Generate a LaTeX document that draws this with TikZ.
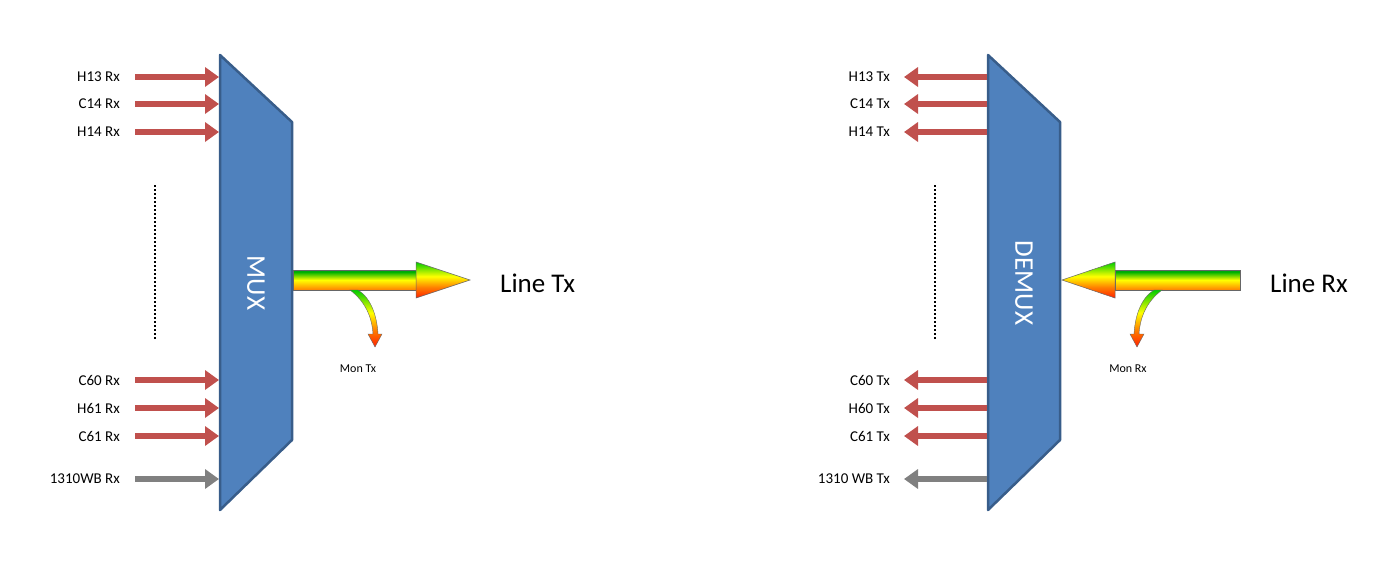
\documentclass[tikz,border=0pt]{standalone}
\usepackage{fontspec}
\setmainfont{Carlito}
\usetikzlibrary{arrows.meta}
\pgfdeclareverticalshading{shaft}{100bp}{color(0bp)=(red!85!black); color(25bp)=(orange); color(50bp)=(yellow); color(70bp)=(green!70!black); color(100bp)=(blue!50!teal!80!black)}
\pgfdeclareverticalshading{head}{100bp}{color(0bp)=(magenta); color(20bp)=(red); color(40bp)=(orange); color(55bp)=(yellow); color(75bp)=(green!80!black); color(100bp)=(blue)}
\definecolor{boxfill}{HTML}{4F81BD}
\definecolor{boxline}{HTML}{385D8A}
\definecolor{redarr}{HTML}{C0504D}
\tikzset{
 sig/.style={line width=6pt,redarr,-{Triangle[length=14pt,width=19pt]}},
 wb/.style={sig,gray},
 lab/.style={anchor=east,font=\fontsize{15}{17}\selectfont,inner sep=0pt},
 box/.style={fill=boxfill,draw=boxline,line width=2.5pt,line join=round},
 big/.style={anchor=west,font=\fontsize{27}{30}\selectfont,inner sep=0pt},
 small/.style={font=\fontsize{12}{14}\selectfont,inner sep=0pt},
 dots/.style={line width=1.8pt,dash pattern=on 2pt off 2pt}
}
\begin{document}
\begin{tikzpicture}[x=1pt,y=-1pt]
\useasboundingbox (0,0) rectangle (1380,560);
% MUX
\draw[box] (220,55) -- (292,122) -- (292,440) -- (220,510) -- cycle;
\node[rotate=-90,text=white,font=\fontsize{27}{30}\selectfont] (mux) at (256,283) {MUX};
\foreach \n/\y/\t in {a/77/H13 Rx,b/104/C14 Rx,c/132/H14 Rx,d/380/C60 Rx,e/408/H61 Rx,f/436/C61 Rx}{
 \node[lab] (l\n) at (120,\y) {\t};
 \coordinate (s\n) at (135,\y); \coordinate (t\n) at (219,\y);
 \draw[sig] (s\n) -- (t\n);}
\node[lab] (lg) at (120,479) {1310WB Rx};
\coordinate (sg) at (135,479); \coordinate (tg) at (219,479);
\draw[wb] (sg) -- (tg);
\coordinate (d1) at (155,185); \coordinate (d2) at (155,340);
\draw[dots] (d1) -- (d2);
% rainbow Tx
\shade[shading=shaft,draw=black!60,line width=0.5pt] (293,270) rectangle (416,290);
\shade[shading=head,draw=black!60,line width=0.5pt] (416,262) -- (470,280) -- (416,298) -- cycle;
\shade[shading=head,draw=black!60,line width=0.4pt] (350,290) .. controls (366,302) and (372,318) .. (373,334) -- (368,334) -- (375,347) -- (382,334) -- (378,334) .. controls (377,316) and (371,298) .. (358,290) -- cycle;
\node[big] (ltx) at (500,283) {Line Tx};
\node[small] (mtx) at (358,369) {Mon Tx};
% DEMUX
\draw[box] (988,55) -- (1060,122) -- (1060,440) -- (988,510) -- cycle;
\node[rotate=-90,text=white,font=\fontsize{27}{30}\selectfont] (demux) at (1024,283) {DEMUX};
\foreach \n/\y/\t in {a/77/H13 Tx,b/104/C14 Tx,c/132/H14 Tx,d/380/C60 Tx,e/408/H60 Tx,f/436/C61 Tx}{
 \node[lab] (r\n) at (890,\y) {\t};
 \coordinate (u\n) at (987,\y); \coordinate (v\n) at (904,\y);
 \draw[sig] (u\n) -- (v\n);}
\node[lab] (rg) at (890,479) {1310 WB Tx};
\coordinate (ug) at (987,479); \coordinate (vg) at (904,479);
\draw[wb] (ug) -- (vg);
\coordinate (e1) at (935,185); \coordinate (e2) at (935,340);
\draw[dots] (e1) -- (e2);
\shade[shading=shaft,draw=black!60,line width=0.5pt] (1115,270) rectangle (1240,290);
\shade[shading=head,draw=black!60,line width=0.5pt] (1115,262) -- (1062,280) -- (1115,298) -- cycle;
\shade[shading=head,draw=black!60,line width=0.4pt] (1162,290) .. controls (1146,302) and (1140,318) .. (1139,334) -- (1144,334) -- (1137,347) -- (1130,334) -- (1134,334) .. controls (1135,316) and (1141,298) .. (1154,290) -- cycle;
\node[big] (lrx) at (1270,283) {Line Rx};
\node[small] (mrx) at (1128,369) {Mon Rx};
\end{tikzpicture}
\end{document}
